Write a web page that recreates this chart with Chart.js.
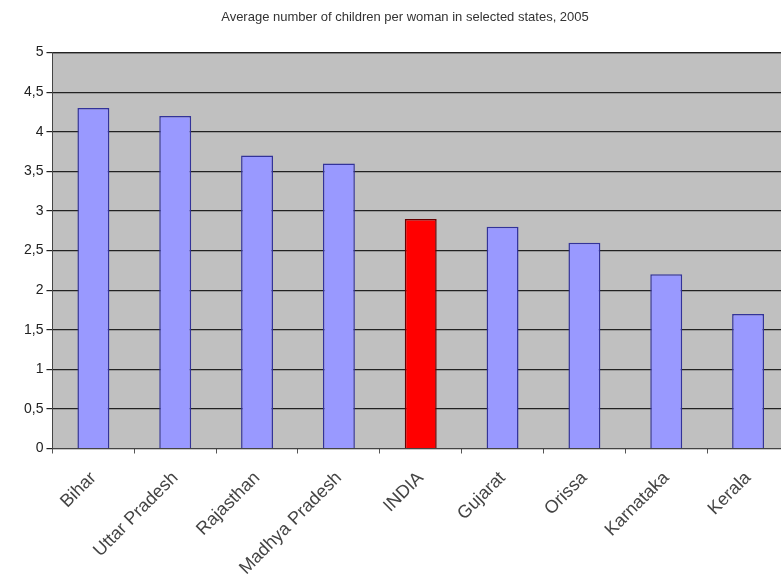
<!DOCTYPE html>
<html>
<head>
<meta charset="utf-8">
<script src="https://cdn.jsdelivr.net/npm/chart.js@4.4.0/dist/chart.umd.min.js"></script>
<style>
  html, body { margin: 0; padding: 0; background: #fff; overflow: hidden; }
  #wrap { width: 781px; height: 579px; overflow: hidden; }
</style>
</head>
<body>
<div id="wrap"><canvas id="chart" width="886" height="599"></canvas></div>
<script>
// data
const states = ["Bihar", "Uttar Pradesh", "Rajasthan", "Madhya Pradesh", "INDIA",
                "Gujarat", "Orissa", "Karnataka", "Kerala"];
const children = [4.3, 4.2, 3.7, 3.6, 2.9, 2.8, 2.6, 2.2, 1.7];
const yTicks = [0, 0.5, 1, 1.5, 2, 2.5, 3, 3.5, 4, 4.5, 5];
const titleText = "Average number of children per woman in selected states, 2005";

const FONT = "Liberation Sans, Arial, sans-serif";

// gray plot background like the old spreadsheet chart
const plotBg = {
  id: "plotBg",
  beforeDraw(chart) {
    const { ctx, chartArea: a } = chart;
    ctx.save();
    ctx.fillStyle = "#c0c0c0";
    ctx.fillRect(a.left, a.top, a.right - a.left, a.bottom - a.top);
    ctx.strokeStyle = "#888";
    ctx.lineWidth = 1;
    ctx.beginPath();
    ctx.moveTo(a.left, a.top + 0.5);
    ctx.lineTo(a.right, a.top + 0.5);
    ctx.stroke();
    ctx.restore();
  }
};

const colors = states.map(s => s === "INDIA" ? "#ff0000" : "#9999ff");
const borders = states.map(s => s === "INDIA" ? "#660000" : "#333399");

new Chart(document.getElementById("chart"), {
  type: "bar",
  data: {
    labels: states,
    datasets: [{
      data: children,
      backgroundColor: colors,
      borderColor: borders,
      borderWidth: 1.5,
      barPercentage: 0.39,
      categoryPercentage: 1
    }]
  },
  options: {
    responsive: false,
    animation: false,
    layout: { padding: { left: 21, right: 97, top: 0, bottom: 6 } },
    plugins: {
      legend: { display: false },
      tooltip: { enabled: false },
      title: {
        display: true,
        text: titleText,
        color: "#333",
        font: { family: FONT, size: 13, weight: "normal" },
        padding: { top: 10, bottom: 27 }
      }
    },
    scales: {
      x: {
        offset: true,
        grid: {
          drawOnChartArea: false,
          drawTicks: true,
          tickLength: 5,
          color: "#555",
          offset: true
        },
        border: { color: "#444", width: 1 },
        ticks: {
          minRotation: 45,
          maxRotation: 45,
          color: "#444",
          padding: 14,
          font: { family: FONT, size: 18 }
        }
      },
      y: {
        min: 0,
        max: 5,
        afterBuildTicks(scale) {
          scale.ticks = yTicks.map(v => ({ value: v }));
        },
        grid: {
          color: "#222",
          lineWidth: 1.2,
          tickLength: 6
        },
        border: { color: "#444", width: 1 },
        ticks: {
          color: "#222",
          padding: 3,
          font: { family: FONT, size: 14 },
          callback: v => String(v).replace(".", ",")
        }
      }
    }
  },
  plugins: [plotBg]
});
</script>
</body>
</html>
